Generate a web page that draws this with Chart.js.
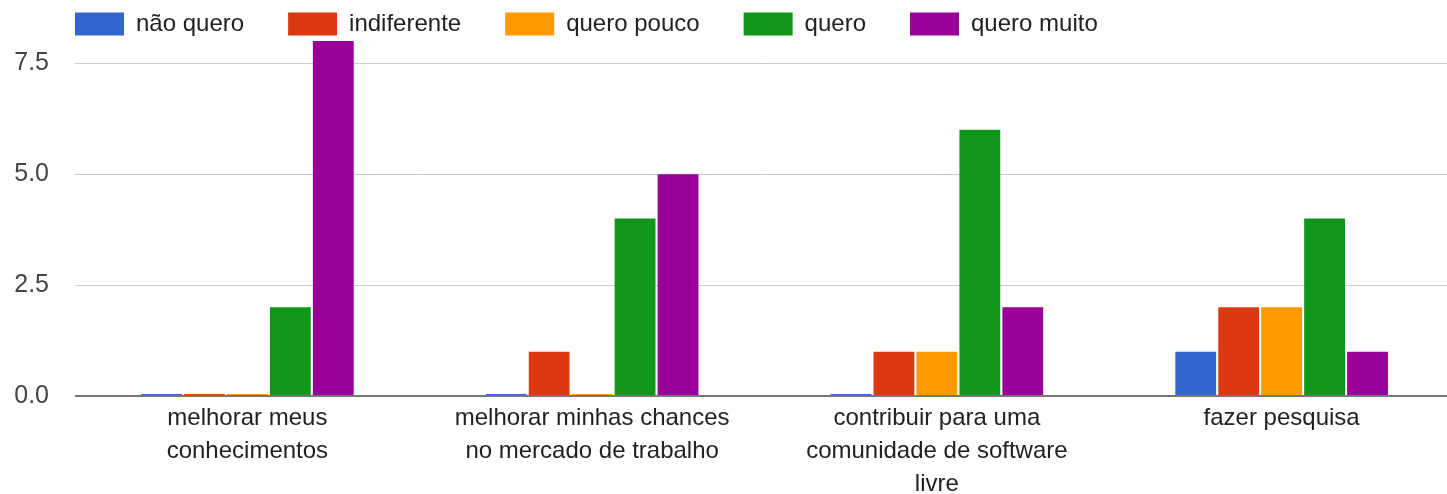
<!DOCTYPE html>
<html>
<head>
<meta charset="utf-8">
<script src="https://cdn.jsdelivr.net/npm/chart.js@4/dist/chart.umd.min.js"></script>
<style>
  html, body { margin: 0; padding: 0; background: #fff; overflow: hidden; }
  #wrap { width: 1454px; height: 494px; position: relative; }
</style>
</head>
<body>
<div id="wrap"><canvas id="motivChart"></canvas></div>
<script>
const categories = [
    ['melhorar meus', 'conhecimentos'],
    ['melhorar minhas chances', 'no mercado de trabalho'],
    ['contribuir para uma', 'comunidade de software', 'livre'],
    'fazer pesquisa'
];
const seriesNames = ['não quero', 'indiferente', 'quero pouco', 'quero', 'quero muito'];
const naoQuero   = [0, 0, 0, 1];
const indiferente = [0, 1, 1, 2];
const queroPouco = [0, 0, 1, 2];
const quero      = [2, 4, 6, 4];
const queroMuito = [8, 5, 2, 1];
const yTicks = [0, 2.5, 5, 7.5];

const seriesValues = [naoQuero, indiferente, queroPouco, quero, queroMuito];
const colors = ['#3366cc', '#dc3912', '#ff9900', '#109618', '#990099'];
const fontFamily = '"Liberation Sans", Arial, sans-serif';

// legend sits a bit right of the canvas edge with wide gaps, like the original
const legendShift = {
    id: 'legendShift',
    beforeDraw(chart) {
        const lg = chart.legend;
        lg.left = 31;
        lg.top = -32;
        lg.bottom = 60;
    }
};

const ctx = document.getElementById('motivChart').getContext('2d');
new Chart(ctx, {
    type: 'bar',
    data: {
        labels: categories,
        datasets: seriesNames.map((name, i) => ({
            label: name,
            data: seriesValues[i],
            backgroundColor: colors[i],
            borderWidth: 0,
            minBarLength: 2,
            categoryPercentage: 0.623,
            barPercentage: 0.95
        }))
    },
    options: {
        responsive: true,
        maintainAspectRatio: false,
        animation: false,
        layout: { padding: 0 },
        plugins: {
            tooltip: { enabled: false },
            legend: {
                position: 'top',
                align: 'start',
                maxHeight: 41,
                labels: {
                    boxWidth: 49,
                    boxHeight: 23,
                    padding: 44,
                    color: '#222',
                    font: { family: fontFamily, size: 24 }
                }
            }
        },
        scales: {
            x: {
                grid: { display: false, drawTicks: false },
                border: { display: false },
                ticks: {
                    autoSkip: false,
                    maxRotation: 0,
                    minRotation: 0,
                    padding: 6,
                    color: '#222',
                    font: { family: fontFamily, size: 24, lineHeight: 1.38 }
                },
                afterFit(axis) { axis.height = 98; }
            },
            y: {
                min: 0,
                max: 8,
                grid: {
                    drawTicks: false,
                    color: c => (c.tick && c.tick.value === 0) ? '#777' : '#ccc',
                    lineWidth: c => (c.tick && c.tick.value === 0) ? 2 : 1
                },
                border: { display: false },
                afterBuildTicks(axis) { axis.ticks = yTicks.map(v => ({ value: v })); },
                afterFit(axis) { axis.width = 75; },
                ticks: {
                    padding: 26,
                    color: '#444',
                    font: { family: fontFamily, size: 25 },
                    callback: v => Number(v).toFixed(1)
                }
            }
        }
    },
    plugins: [legendShift]
});
</script>
</body>
</html>
